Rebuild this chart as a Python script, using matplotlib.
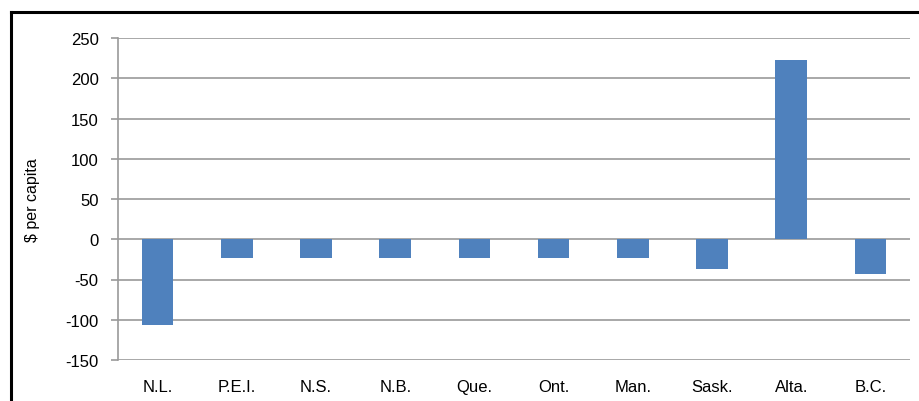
import matplotlib
matplotlib.use('Agg')
import matplotlib.pyplot as plt
from matplotlib.lines import Line2D

# Per capita values by province
provinces = ['N.L.', 'P.E.I.', 'N.S.', 'N.B.', 'Que.', 'Ont.', 'Man.', 'Sask.', 'Alta.', 'B.C.']
per_capita = [-107, -23, -23, -23, -23, -23, -23, -37, 223, -43]
y_ticks = [-150, -100, -50, 0, 50, 100, 150, 200, 250]

plt.rcParams['font.family'] = ['Liberation Sans', 'DejaVu Sans']

fig = plt.figure(figsize=(9.2, 4.02), dpi=100)
ax = fig.add_axes([118 / 920, 1 - 361 / 402, (910 - 118) / 920, (361 - 39) / 402])

x = range(len(provinces))
ax.bar(x, per_capita, width=0.4, color='#4F81BD', zorder=3)

# Gridlines and axis look (Excel style)
ax.set_ylim(-150, 250)
ax.set_xlim(-0.5, len(provinces) - 0.5)
ax.set_yticks(y_ticks)
ax.set_yticklabels([str(v) for v in y_ticks], fontsize=12)
ax.set_xticks(list(x))
ax.set_xticklabels(provinces, fontsize=12)
ax.yaxis.grid(True, color='#9a9a9a', linewidth=1.2, zorder=0)
ax.tick_params(axis='y', length=5, width=1.2, color='#9a9a9a', pad=9)
ax.tick_params(axis='x', length=0, pad=14)

for side in ['top', 'right', 'bottom']:
    ax.spines[side].set_visible(False)
ax.spines['left'].set_color('#9a9a9a')
ax.spines['left'].set_linewidth(1.2)

ax.set_ylabel('$ per capita', fontsize=11.5)
ax.yaxis.set_label_coords(-0.098, 0.5)

# Black frame around the chart (cut at right and bottom)
fig.add_artist(Line2D([11 / 920, 11 / 920], [0, 1 - 13 / 402], color='black', linewidth=2.2,
                      transform=fig.transFigure))
fig.add_artist(Line2D([11 / 920, 1], [1 - 13 / 402, 1 - 13 / 402], color='black', linewidth=2.2,
                      transform=fig.transFigure))

fig.savefig('out.png', dpi=100)
